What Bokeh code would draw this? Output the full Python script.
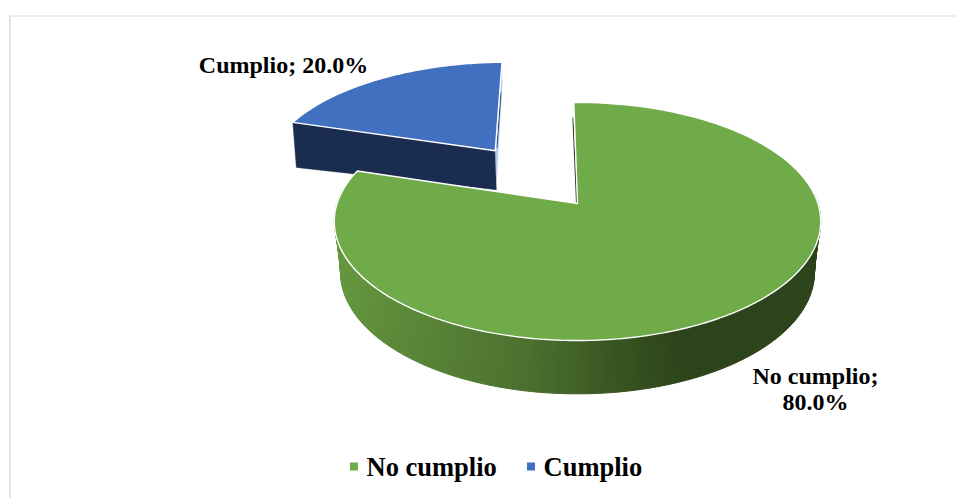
import math
from bokeh.embed import file_html
from bokeh.models import Range1d
from bokeh.plotting import figure
from bokeh.resources import INLINE
from bokeh.core.properties import value

# ---- data ----
categories = ["No cumplio", "Cumplio"]
shares = [80.0, 20.0]
top_colors = ["#6fab48", "#4270c0"]

# ---- layout of the 3-D projection (pixels of the 956x498 window) ----
W, H = 956, 498
X0, Y0, A, B, K = 577, 203, 240.4, 116.3, 0.151      # top plane
BY, A2, B2, K2 = 235.5, 226, 110.5, 0.30             # floor of the green body
START = -1.0                                         # first-slice rotation, degrees
EXPLODE = 0.61
BLUE_WALL = "#1a2c50"
FONT = value("Liberation Serif")


def top(u, v):
    w = 1 - K * v
    return X0 + A * u / w, Y0 + B * v / w


def floor(u, v):
    w = 1 - K2 * v
    return X0 + A2 * u / w, BY + B2 * v / w


def uv(deg):
    r = math.radians(deg)
    return math.sin(r), -math.cos(r)


def mix(stops, t):
    for (t0, c0), (t1, c1) in zip(stops, stops[1:]):
        if t <= t1:
            f = (t - t0) / (t1 - t0)
            return "#%02x%02x%02x" % tuple(round(a + (b - a) * f) for a, b in zip(c0, c1))
    return "#%02x%02x%02x" % stops[-1][1]


green_sweep = shares[0] / sum(shares) * 360
blue_sweep = shares[1] / sum(shares) * 360
g_a, g_b = START, START + green_sweep
b_a, b_b = g_b, g_b + blue_sweep

# exploded slice moves along its own bisector in the pie's plane
du, dv = uv((b_a + b_b) / 2)
du, dv = du * EXPLODE, dv * EXPLODE

p = figure(width=W, height=H, output_backend="svg", toolbar_location=None,
           x_range=Range1d(0, W), y_range=Range1d(H, 0),
           min_border=0, outline_line_color=None, background_fill_color="white")
p.axis.visible = False
p.grid.visible = False

# chart frame
p.line([9.5, 9.5], [15, H], line_color="#e3e3e3", line_width=2)
p.line([9, W], [15.5, 15.5], line_color="#d9d9d9", line_width=1)

# blue slice: cut walls then top
ax, ay = top(du, dv)
ru, rv = uv(b_a)
lx, ly = top(du + ru, dv + rv)
ru2, rv2 = uv(b_b)
tx, ty = top(du + ru2, dv + rv2)
p.patch([lx, ax, ax + 1, lx + 3.5], [ly, ay, ay + 39, ly + 45],
        fill_color=BLUE_WALL, line_color=BLUE_WALL, line_width=0.5)
p.patch([tx, ax, ax + 1, ax + 1.5, tx + 0.5], [ty + 4, ay, ay + 39, ay + 30, ty + 20],
        fill_color="#b9cbea", line_color=None)
p.line([tx - 1, ax + 1.6], [ty + 30, ay - 3], line_color="#2a4372", line_width=1)
bx, by = [ax], [ay]
n = 80
for i in range(n + 1):
    u, v = uv(b_a + (b_b - b_a) * i / n)
    x, y = top(du + u, dv + v)
    bx.append(x)
    by.append(y)
p.patch(bx, by, fill_color=top_colors[1], line_color="white", line_width=1.4)

# green body wall, shaded from left to right
stops = [(0.0, (101, 152, 62)), (0.40, (76, 112, 47)), (0.62, (50, 78, 30)),
         (0.70, (45, 68, 27)), (1.0, (44, 67, 27))]
xs, ys, cs = [], [], []
for d in range(85, 276):
    u1, v1 = uv(d)
    u2, v2 = uv(d + 1)
    a1, b1 = top(u1, v1)
    a2, b2 = top(u2, v2)
    c1, e1 = floor(u1, v1)
    c2, e2 = floor(u2, v2)
    xs.append([a1, a2, c2, c1])
    ys.append([b1, b2, e2, e1])
    cs.append(mix(stops, ((a1 + a2) / 2 - 335) / 486))
p.patches(xs, ys, fill_color=cs, line_color=cs, line_width=1)

# green cut wall: a thin sliver beside the top face
su, sv = uv(g_a)
sx, sy = top(su, sv)
p.patch([sx - 0.5, X0, X0 - 1.5, sx - 1.5], [sy + 15, Y0, Y0, sy + 15],
        fill_color="#2c431b", line_color=None)

# green top face
gx, gy = [X0], [Y0]
n = 300
for i in range(n + 1):
    u, v = uv(g_a + (g_b - g_a) * i / n)
    x, y = top(u, v)
    gx.append(x)
    gy.append(y)
p.patch(gx, gy, fill_color=top_colors[0], line_color="white", line_width=1.4)

# data labels
p.text([283], [64], text=[f"{categories[1]}; {shares[1]:.1f}%"], text_font=FONT,
       text_font_style="bold", text_font_size="24px", text_color="black",
       text_align="center", text_baseline="middle")
p.text([815], [375], text=[f"{categories[0]};"], text_font=FONT,
       text_font_style="bold", text_font_size="24px", text_color="black",
       text_align="center", text_baseline="middle")
p.text([815], [401], text=[f"{shares[0]:.1f}%"], text_font=FONT,
       text_font_style="bold", text_font_size="24px", text_color="black",
       text_align="center", text_baseline="middle")

# legend
p.scatter([353.5, 530.5], [466, 466], marker="square", size=8,
          fill_color=top_colors, line_color=None)
p.text([366, 543], [466, 466], text=categories, text_font=FONT,
       text_font_style="bold", text_font_size="26.5px", text_color="black",
       text_align="left", text_baseline="middle")

open("out.html", "w").write(file_html(p, INLINE))
